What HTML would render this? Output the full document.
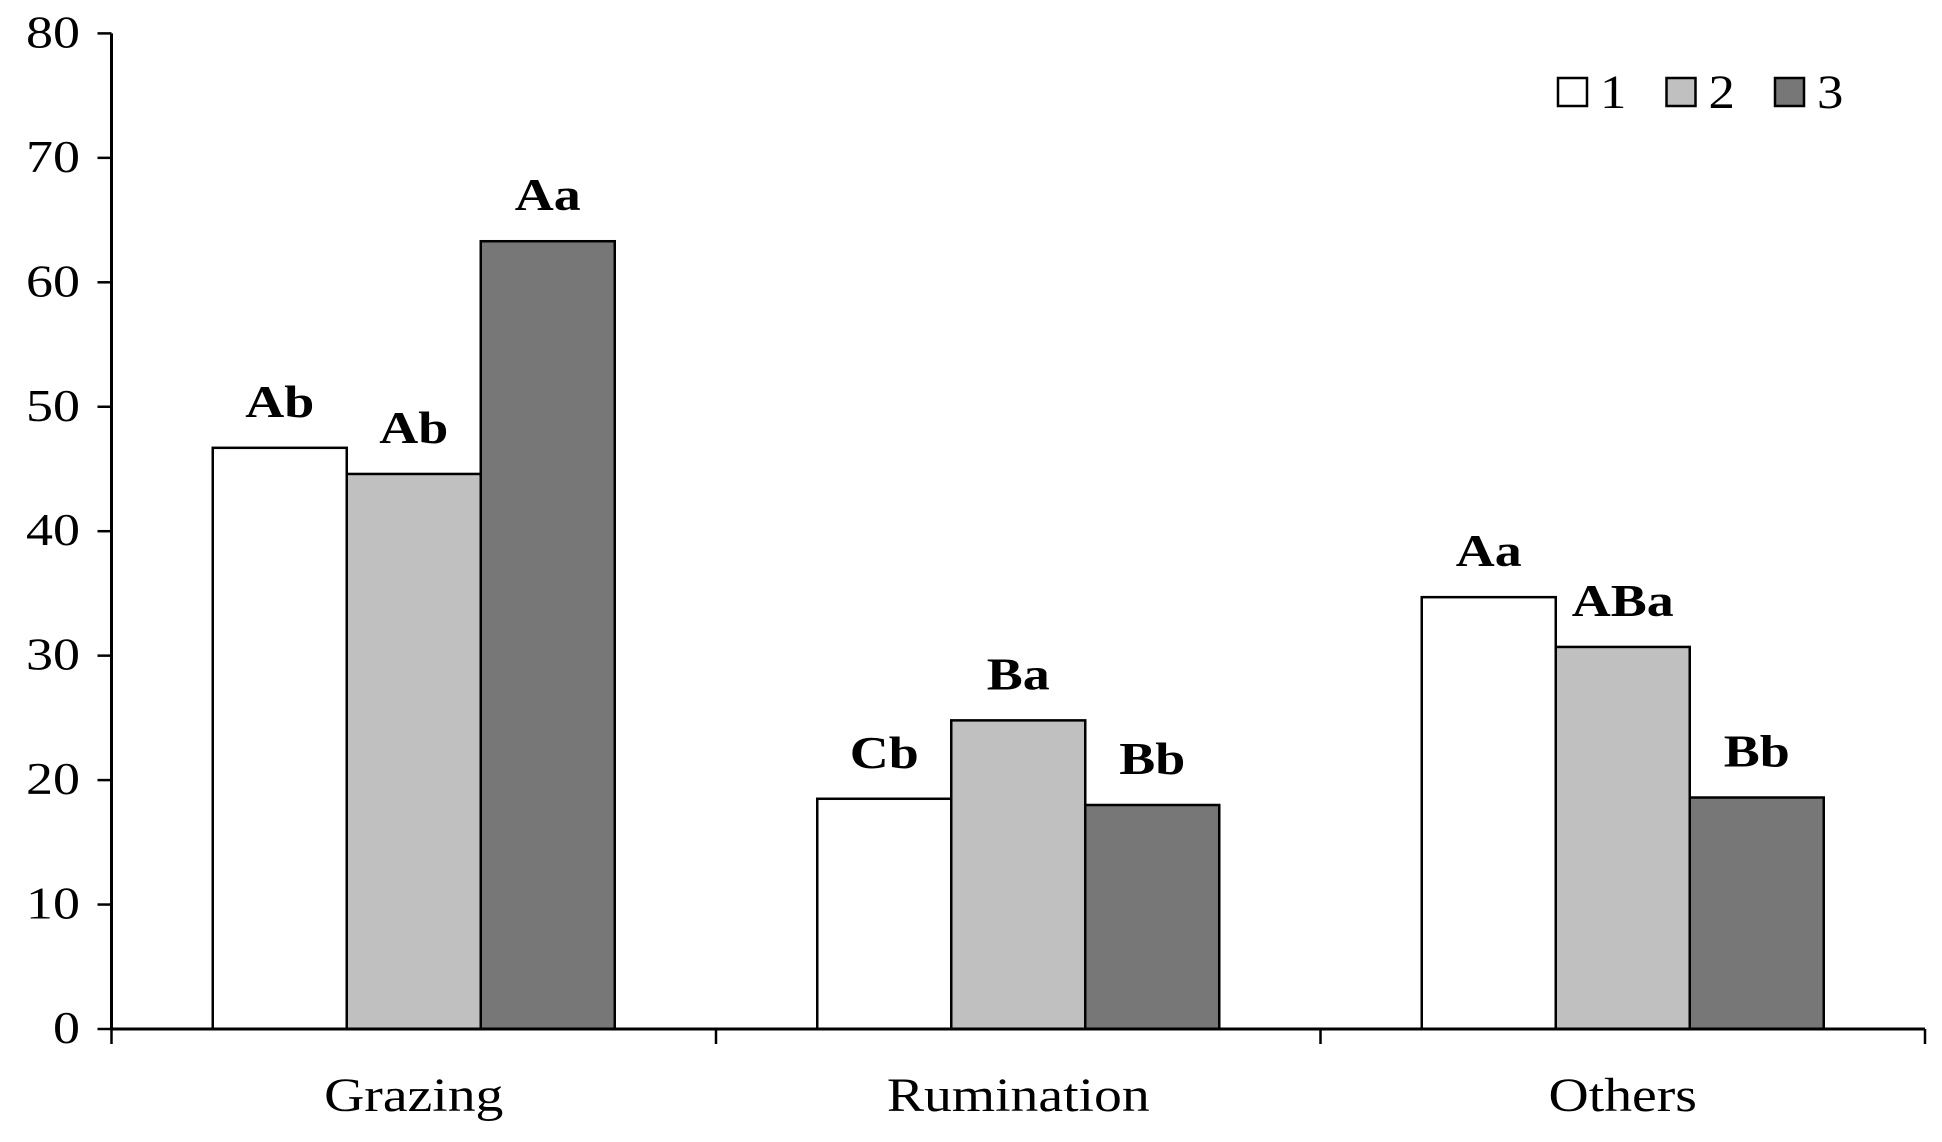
<!DOCTYPE html>
<html><head><meta charset="utf-8"><style>
html,body{margin:0;padding:0;background:#fff}
svg{display:block}
text{font-family:"Liberation Serif",serif;fill:#000}
</style></head><body>
<svg id="chart" width="1942" height="1142" viewBox="0 0 1942 1142" xmlns="http://www.w3.org/2000/svg"></svg>
<script>
const categories = ["Grazing","Rumination","Others"];
const series1 = [46.7, 18.5, 34.7];
const series2 = [44.6, 24.8, 30.7];
const series3 = [63.3, 18.0, 18.6];
const labels1 = ["Ab","Cb","Aa"];
const labels2 = ["Ab","Ba","ABa"];
const labels3 = ["Aa","Bb","Bb"];
const yTicks = [0,10,20,30,40,50,60,70,80];
const seriesNames = ["1","2","3"];

const svg = document.getElementById('chart');
const NS = 'http://www.w3.org/2000/svg';
const X0 = 111.5, X1 = 1925, Y0 = 1029, Y80 = 33.4;
const fills = ["#ffffff","#c0c0c0","#777777"];
const yScale = v => Y0 - (v/80)*(Y0-Y80);
const catW = (X1-X0)/categories.length;
const barW = 134;
const xBar = (ci, si) => X0 + catW*ci + catW/2 - 1.5*barW + si*barW;
function mk(tag, attrs){const e=document.createElementNS(NS,tag);for(const k in attrs)e.setAttribute(k,attrs[k]);svg.appendChild(e);return e;}
function txt(str,x,y,size,anchor,sx,bold){
  const t=mk('text',{x:0,y:0,'text-anchor':anchor,'font-size':size,transform:'translate('+x+','+y+') scale('+sx+',1)'});
  if(bold)t.setAttribute('font-weight','bold');
  t.textContent=str;return t;
}

yTicks.forEach(t=>{
  const y=yScale(t);
  const tk=mk('line',{x1:X0-14,x2:X0,y1:y,y2:y,stroke:'#000','stroke-width':2.5});
  
  
  const tl=txt(String(t),80,y+14,45,'end',1.2,false);
  
  
});

const all=[series1,series2,series3], lbls=[labels1,labels2,labels3];
categories.forEach((c,ci)=>{
  all.forEach((s,si)=>{
    const x=xBar(ci,si), y=yScale(s[ci]);
    const r=mk('rect',{x:x,y:y,width:barW,height:Y0-y,fill:fills[si],stroke:'#000','stroke-width':2.5});
    
    
    const t=txt(lbls[si][ci],x+barW/2,y-31,45,'middle',1.2,true);
    
    
  });
  const cl=txt(c,X0+catW*ci+catW/2,1111,48,'middle',1.16,false);
  
  
});
for(let i=0;i<=categories.length;i++){
  const x=X0+catW*i;
  const ct=mk('line',{x1:x,x2:x,y1:Y0,y2:Y0+15,stroke:'#000','stroke-width':2.5});
  
  
}
const ya=mk('line',{x1:X0,x2:X0,y1:Y80,y2:Y0+1,stroke:'#000','stroke-width':3});


const xa=mk('line',{x1:X0,x2:X1,y1:Y0,y2:Y0,stroke:'#000','stroke-width':3});



seriesNames.forEach((n,i)=>{
  const lx=1558+i*108.5;
  const r=mk('rect',{x:lx,y:78,width:29,height:28,fill:fills[i],stroke:'#000','stroke-width':2.5});
  
  
  const t=txt(n,lx+42,108,48,'start',1.1,false);
  
  
});
</script>
</body></html>
